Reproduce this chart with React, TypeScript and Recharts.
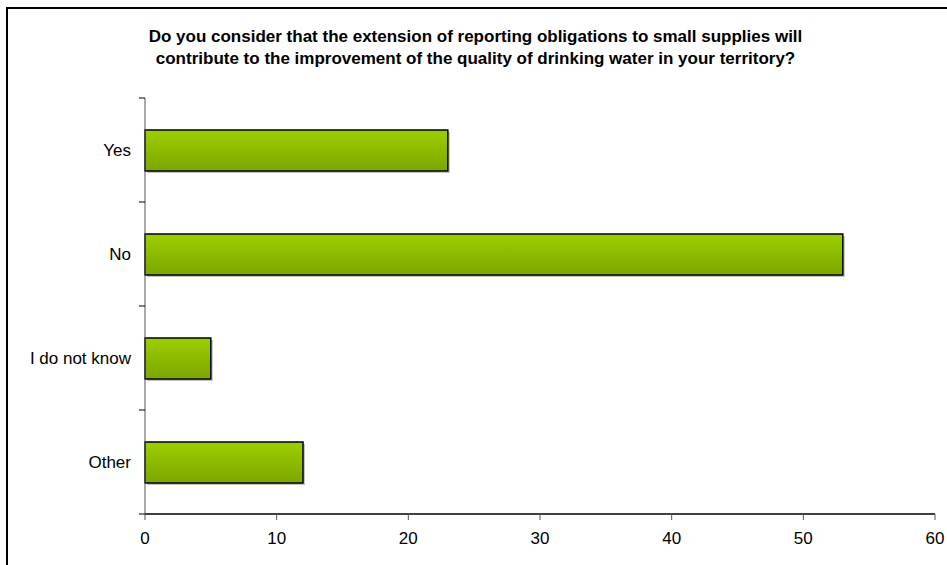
import { Bar, BarChart, XAxis, YAxis } from "recharts"

const categories = ["Yes", "No", "I do not know", "Other"]
const answers = [23, 53, 5, 12]
const xTicks = [0, 10, 20, 30, 40, 50, 60]
const titleLines = [
  "Do you consider that the extension of reporting obligations to small supplies will",
  "contribute to the improvement of the quality of drinking water in your territory?",
]

const data = categories.map((name, i) => ({ name, value: answers[i] }))

const W = 947
const H = 565
const X_AXIS_H = 30
const M = { top: 98, right: 12, bottom: 51 - X_AXIS_H, left: 0 }
const Y_AXIS_W = 145
const FONT = "Arial, 'Liberation Sans', sans-serif"

const bandHalf = (H - M.top - M.bottom - X_AXIS_H) / categories.length / 2

function CategoryTick(props: any) {
  const { y, payload, index } = props
  const ax = M.left + Y_AXIS_W
  return (
    <g>
      {index === 0 && <line x1={ax - 6} x2={ax} y1={y - bandHalf} y2={y - bandHalf} stroke="#000" />}
      <line x1={ax - 6} x2={ax} y1={y + bandHalf} y2={y + bandHalf} stroke="#000" />
      <text x={ax - 14} y={y} dy="0.355em" textAnchor="end" fontSize={17} fill="#000" fontFamily={FONT}>
        {payload.value}
      </text>
    </g>
  )
}

function BarShape(props: any) {
  const { x, y, width, height } = props
  return (
    <g>
      <rect x={x + 2} y={y + 2} width={width} height={height} fill="#c4c4c4" />
      <rect x={x} y={y} width={width} height={height} fill="url(#barGrad)" stroke="#000" strokeWidth={1.5} />
    </g>
  )
}

export default function App() {
  return (
    <div style={{ position: "absolute", left: 0, top: 0, width: W, height: H, overflow: "hidden", background: "#fff" }}>
      <div
        style={{
          position: "absolute", left: 6, top: 7, width: 1200, height: 1000,
          borderTop: "2px solid #000", borderLeft: "2px solid #000",
        }}
      />
      <div
        style={{
          position: "absolute", left: 2, top: 26, width: W, textAlign: "center",
          fontFamily: FONT, fontWeight: "bold", fontSize: 17, lineHeight: "22px", color: "#000",
        }}
      >
        {titleLines.map((t) => (
          <div key={t}>{t}</div>
        ))}
      </div>
      <div style={{ position: "absolute", left: 0, top: 0 }}>
        <BarChart width={W} height={H} data={data} layout="vertical" margin={M} barSize={41}>
          <defs>
            <linearGradient id="barGrad" x1="0" y1="0" x2="0" y2="1">
              <stop offset="0%" stopColor="#9ccf00" />
              <stop offset="100%" stopColor="#7ea600" />
            </linearGradient>
          </defs>
          <XAxis
            type="number"
            domain={[0, 60]}
            ticks={xTicks}
            interval={0}
            height={X_AXIS_H}
            axisLine={{ stroke: "#000", strokeWidth: 1.5 }}
            tickLine={{ stroke: "#555" }}
            tickMargin={12}
            tick={{ fontSize: 17, fill: "#000", fontFamily: FONT }}
          />
          <YAxis
            type="category"
            dataKey="name"
            width={Y_AXIS_W}
            axisLine={{ stroke: "#555" }}
            tickLine={false}
            tick={<CategoryTick />}
          />
          <Bar dataKey="value" shape={<BarShape />} isAnimationActive={false} />
        </BarChart>
      </div>
    </div>
  )
}
